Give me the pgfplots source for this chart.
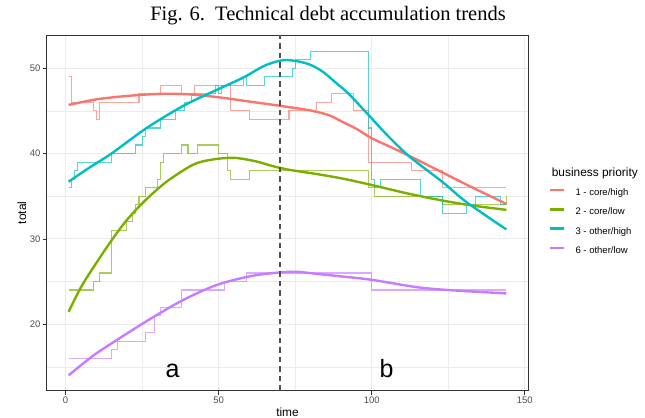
\documentclass[border=0pt]{standalone}
\usepackage{pgfplots}
\pgfplotsset{compat=1.18}
\usepackage{fontspec}
\setmainfont{Liberation Sans}
\newfontfamily\timesfont{Liberation Serif}
\definecolor{c1}{HTML}{F8766D}
\definecolor{c2}{HTML}{7CAE00}
\definecolor{c3}{HTML}{00BFC4}
\definecolor{c6}{HTML}{C77CFF}
\definecolor{gridc}{HTML}{EBEBEB}
\definecolor{axc}{HTML}{333333}
\definecolor{tickc}{HTML}{4D4D4D}
\definecolor{dashc}{HTML}{505050}
\begin{document}
\begin{tikzpicture}
\useasboundingbox (-46.7bp,-27.3bp) rectangle (598.3bp,390.7bp);
\begin{axis}[
  scale only axis, width=481.6bp, height=355.7bp,
  at={(0,0)}, anchor=south west,
  xmin=-6.15, xmax=151.15, ymin=12.2, ymax=53.9,
  enlargelimits=false,
  xtick={0,50,100,150}, ytick={20,30,40,50},
  minor xtick={25,75,125}, minor ytick={15,25,35,45},
  grid=both,
  major grid style={gridc, line width=1.07bp},
  minor grid style={gridc, line width=0.53bp},
  axis line style={axc, line width=0.6bp},
  tick align=outside, major tick length=4bp, minor tick length=0pt,
  major tick style={axc, line width=0.6bp},
  xtick pos=left, ytick pos=left,
  tick label style={font=\fontsize{9.5bp}{11bp}\selectfont, color=tickc, inner sep=0pt},
  xticklabel shift=2bp, yticklabel shift=2bp,
  /pgf/number format/assume math mode=true,
  xlabel={time}, ylabel={total},
  every axis x label/.style={at={(axis description cs:0.5,0)}, anchor=base, yshift=-25.6bp, font=\fontsize{11.9bp}{14bp}\selectfont},
  every axis y label/.style={at={(axis description cs:-0.0513,0.5)}, rotate=90, anchor=center, font=\fontsize{11.9bp}{14bp}\selectfont},
  legend style={at={(axis description cs:1.0429,0.4743)}, anchor=west, draw=none, fill=none, inner sep=0pt,
    font=\fontsize{9.5bp}{11bp}\selectfont, row sep=10.3bp, column sep=10bp,
    nodes={inner sep=0pt, text height=7bp, text depth=2bp}},
  legend cell align=left,
  legend image code/.code={\draw[#1] (0bp,3bp) -- (14bp,3bp);},
]
% step lines
\addplot[forget plot, const plot, c1, opacity=0.65, line width=1.1bp] coordinates {
(1,49)(2,46)(9,45)(10,44)(11,46)(24,47)(31,48)(38,47)(42,48)(54,45)(60,44)(73,45)(82,46)(87,47)(94,45)(99,39)(113,38)(123,36)(144,36)};
\addplot[forget plot, const plot, c2, opacity=0.65, line width=1.1bp] coordinates {
(1,24)(9,25)(11,26)(15,31)(20,32)(22,33)(23,34)(24,35)(26,36)(30,37)(31,39)(32,40)(38,41)(40,40)(43,41)(50,40)(53,38)(54,37)(60,38)(99,36)(101,35)(123,34)(144,35)};
\addplot[forget plot, const plot, c3, opacity=0.65, line width=1.1bp] coordinates {
(1,36)(2,37)(3,38)(4,39)(15,40)(23,41)(25,42)(26,43)(31,44)(36,45)(39,46)(41,47)(49,48)(50,47)(51,48)(58,49)(59,48)(65,49)(74,50)(75,51)(80,52)(99,43)(100,37)(101,36)(103,37)(116,35)(123,33)(131,34)(134,35)(142,34)(144,34)};
\addplot[forget plot, const plot, c6, opacity=0.65, line width=1.1bp] coordinates {
(1,16)(15,17)(17,18)(26,19)(29,21)(31,22)(38,24)(52,25)(59,26)(100,24)(144,24)};
% smooth lines
\addplot[smooth, c1, line width=2.4bp] coordinates {
(1,45.7)(10,46.35)(20,46.75)(31,47.0)(40,46.95)(50,46.6)(60,46.1)(70,45.6)(80,45.05)(86,44.5)(90,43.8)(95,42.9)(100,41.8)(106,40.8)(113,39.6)(123,37.8)(133,36.0)(144,34.1)};
\addlegendentry{1 - core/high}
\addplot[smooth, c2, line width=2.4bp] coordinates {
(1,21.45)(5,24.3)(9,26.6)(15,29.8)(20,32.2)(26,34.5)(33,36.7)(41.7,38.7)(48,39.3)(55,39.5)(62,39.1)(68,38.5)(73,38.1)(82,37.6)(90,37.1)(99,36.4)(112,35.3)(123,34.5)(133,33.9)(144,33.4)};
\addlegendentry{2 - core/low}
\addplot[smooth, c3, line width=2.4bp] coordinates {
(1,36.7)(8,38.4)(15,40.0)(26.5,43.0)(38.5,45.6)(49,47.4)(58,48.9)(65,50.3)(71,50.95)(76,50.8)(80,50.4)(84,49.6)(88,48.4)(92.5,47.0)(99,44.5)(105.5,42.0)(112.5,39.6)(123,36.7)(131,34.3)(144,31.1)};
\addlegendentry{3 - other/high}
\addplot[smooth, c6, line width=2.4bp] coordinates {
(1,14.0)(9,16.3)(17,18.2)(27.6,20.6)(38.5,22.85)(49.4,24.6)(60,25.6)(68,26.0)(75,26.15)(82,25.9)(90,25.6)(100,25.2)(114.5,24.35)(125,24.0)(144,23.6)};
\addlegendentry{6 - other/low}
% dashed vertical line
\addplot[forget plot, dashc, line width=1.4bp, dash pattern=on 5.5bp off 4bp] coordinates {(70,12.2)(70,53.9)};
\node[anchor=base, font=\fontsize{25bp}{30bp}\selectfont] at (axis cs:35,13.75) {a};
\node[anchor=base, font=\fontsize{25bp}{30bp}\selectfont] at (axis cs:104.9,13.75) {b};
\end{axis}
\node[anchor=base west, font=\fontsize{11.9bp}{14bp}\selectfont] at (501.6bp,214.5bp) {business priority};
\node[anchor=base, font=\timesfont\fontsize{20.5bp}{24bp}\selectfont] at (281.3bp,369.7bp) {Fig. 6.\enspace Technical debt accumulation trends};
\end{tikzpicture}
\end{document}
